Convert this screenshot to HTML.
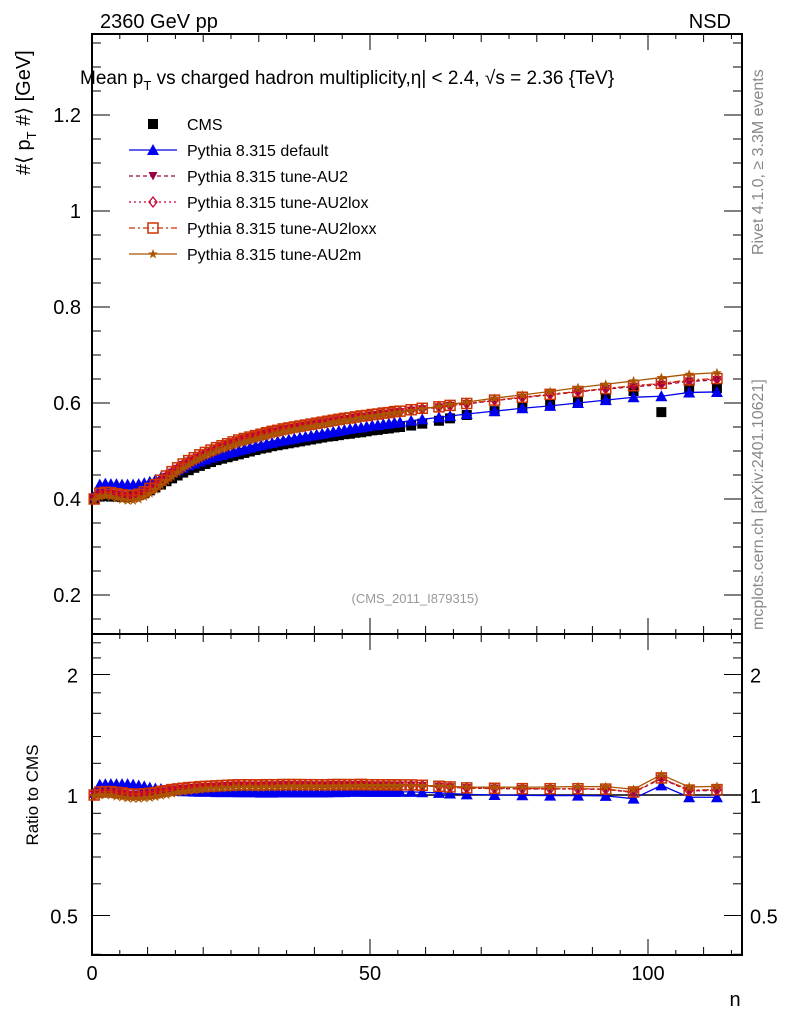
<!DOCTYPE html>
<html><head><meta charset="utf-8"><style>
body{margin:0;background:#fff;}
svg{font-family:"Liberation Sans",sans-serif;}
</style></head><body>
<svg id="chart" width="786" height="1024" xmlns="http://www.w3.org/2000/svg">
<g id="frame"></g>
<g id="marks"></g>
<text x="100" y="28" font-size="20">2360 GeV pp</text>
<text x="731" y="28" font-size="20" text-anchor="end">NSD</text>
<text x="80" y="84" font-size="19">Mean p<tspan font-size="13" dy="6">T</tspan><tspan dy="-6"> vs charged hadron multiplicity,</tspan>η| &lt; 2.4, √s = 2.36 {TeV}</text>
<text transform="translate(30,175) rotate(-90)" font-size="20">#⟨ p<tspan font-size="13" dy="6">T</tspan><tspan dy="-6"> #⟩ [GeV]</tspan></text>
<text transform="translate(38,795) rotate(-90)" font-size="17" text-anchor="middle">Ratio to CMS</text>
<text x="735" y="1006" font-size="20" text-anchor="middle">n</text>
<text transform="translate(763,255) rotate(-90)" font-size="16" fill="#888">Rivet 4.1.0, ≥ 3.3M events</text>
<text transform="translate(763,630) rotate(-90)" font-size="16" fill="#888">mcplots.cern.ch [arXiv:2401.10621]</text>
<text x="415" y="603" font-size="13" fill="#999" text-anchor="middle">(CMS_2011_I879315)</text>
<g id="legend"></g>
</svg>
<script>
const nVals=[1,2,3,4,5,6,7,8,9,10,11,12,13,14,15,16,17,18,19,20,21,22,23,24,25,26,27,28,29,30,31,32,33,34,35,36,37,38,39,40,41,42,43,44,45,46,47,48,49,50,51,52,53,54,55,56,58,60,63,65,68,73,78,83,88,93,98,103,108,113];
const cms=[0.400,0.405,0.406,0.405,0.405,0.404,0.404,0.405,0.408,0.412,0.418,0.424,0.430,0.437,0.443,0.449,0.455,0.460,0.465,0.469,0.473,0.477,0.481,0.484,0.487,0.490,0.493,0.496,0.499,0.502,0.505,0.507,0.510,0.512,0.514,0.516,0.518,0.520,0.522,0.524,0.526,0.528,0.530,0.531,0.533,0.535,0.536,0.538,0.539,0.541,0.543,0.544,0.546,0.547,0.549,0.550,0.553,0.557,0.563,0.568,0.575,0.583,0.590,0.596,0.602,0.609,0.625,0.581,0.630,0.631];
const pDefault=[0.405,0.430,0.432,0.431,0.431,0.430,0.430,0.430,0.431,0.433,0.436,0.440,0.445,0.450,0.455,0.460,0.465,0.470,0.474,0.478,0.482,0.486,0.489,0.492,0.495,0.498,0.501,0.504,0.507,0.510,0.512,0.515,0.517,0.520,0.522,0.524,0.526,0.528,0.530,0.532,0.534,0.536,0.538,0.540,0.542,0.544,0.546,0.548,0.549,0.551,0.553,0.554,0.556,0.557,0.559,0.560,0.563,0.566,0.570,0.573,0.577,0.583,0.589,0.594,0.600,0.606,0.612,0.614,0.622,0.623];
const pAU2=[0.400,0.410,0.412,0.411,0.409,0.407,0.405,0.405,0.408,0.413,0.420,0.428,0.437,0.446,0.455,0.463,0.471,0.478,0.484,0.490,0.495,0.500,0.505,0.509,0.513,0.517,0.521,0.524,0.527,0.530,0.533,0.536,0.539,0.541,0.544,0.546,0.548,0.550,0.552,0.554,0.556,0.558,0.560,0.562,0.564,0.566,0.567,0.569,0.571,0.572,0.574,0.575,0.577,0.578,0.580,0.581,0.584,0.587,0.591,0.594,0.598,0.605,0.611,0.617,0.623,0.629,0.634,0.638,0.645,0.648];
const pAU2lox=[0.400,0.411,0.413,0.412,0.410,0.408,0.406,0.406,0.409,0.414,0.421,0.429,0.438,0.447,0.456,0.464,0.472,0.479,0.485,0.491,0.496,0.501,0.506,0.510,0.514,0.518,0.522,0.525,0.528,0.531,0.534,0.537,0.540,0.542,0.545,0.547,0.549,0.551,0.553,0.555,0.557,0.559,0.561,0.563,0.565,0.567,0.568,0.570,0.572,0.573,0.575,0.576,0.578,0.579,0.581,0.582,0.585,0.588,0.592,0.595,0.599,0.606,0.612,0.618,0.624,0.630,0.636,0.640,0.647,0.650];
const pAU2loxx=[0.400,0.412,0.414,0.413,0.411,0.409,0.407,0.407,0.410,0.415,0.422,0.430,0.439,0.448,0.457,0.465,0.473,0.480,0.486,0.492,0.497,0.502,0.507,0.511,0.515,0.519,0.523,0.526,0.529,0.532,0.535,0.538,0.541,0.543,0.546,0.548,0.550,0.552,0.554,0.556,0.558,0.560,0.562,0.564,0.566,0.568,0.569,0.571,0.573,0.574,0.576,0.577,0.579,0.580,0.582,0.583,0.586,0.589,0.592,0.595,0.599,0.606,0.612,0.618,0.624,0.630,0.636,0.641,0.648,0.651];
const pAU2m=[0.398,0.405,0.407,0.405,0.402,0.399,0.397,0.397,0.400,0.405,0.412,0.420,0.429,0.438,0.447,0.456,0.464,0.471,0.478,0.484,0.490,0.495,0.500,0.504,0.508,0.512,0.516,0.519,0.522,0.525,0.528,0.531,0.534,0.537,0.540,0.542,0.545,0.547,0.549,0.551,0.553,0.555,0.557,0.559,0.561,0.563,0.565,0.567,0.569,0.571,0.573,0.574,0.576,0.578,0.579,0.581,0.584,0.588,0.593,0.597,0.602,0.610,0.617,0.624,0.632,0.639,0.646,0.653,0.660,0.663];
const xTicks=[0,50,100];
const yTicks=[0.2,0.4,0.6,0.8,1,1.2];
const rTicks=[0.5,1,2];

const NS='http://www.w3.org/2000/svg';
const L=92,R=742,T=34,MB=634,RB=955;
const X=v=>L+(v-0.6)*5.56;
const XA=v=>L+v*5.56;
const Y=v=>595-(v-0.2)*480;
const RY=v=>795-Math.log2(v)*120.5;
function mk(tag,attrs,parent){const e=document.createElementNS(NS,tag);for(const k in attrs)e.setAttribute(k,attrs[k]);parent.appendChild(e);return e;}
const F=document.getElementById('frame'),M=document.getElementById('marks'),LG=document.getElementById('legend');

let e;
e=mk('rect',{x:L,y:T,width:R-L,height:MB-T,fill:'none',stroke:'#000','stroke-width':2},F);

e=mk('rect',{x:L,y:MB,width:R-L,height:RB-MB,fill:'none',stroke:'#000','stroke-width':2},F);

for(let v=0;v<=115;v+=5){const big=v%50===0;const len=big?16:(v%10===0?8:5);
 for(const [b,t] of [[MB,T],[RB,MB]]){mk('line',{x1:XA(v),x2:XA(v),y1:b,y2:b-len,stroke:'#000'},F);mk('line',{x1:XA(v),x2:XA(v),y1:t,y2:t+len,stroke:'#000'},F);}}
xTicks.forEach(v=>{e=mk('text',{x:XA(v),y:980,'font-size':20,'text-anchor':'middle'},F);e.textContent=v;
 });
for(let v=0.15;v<=1.36;v+=0.05){const y=Y(v);if(y<T||y>MB)continue;const big=Math.abs(v*5-Math.round(v*5))<1e-6;const len=big?18:9;
 mk('line',{x1:L,x2:L+len,y1:y,y2:y,stroke:'#000'},F);mk('line',{x1:R,x2:R-len,y1:y,y2:y,stroke:'#000'},F);}
yTicks.forEach(v=>{e=mk('text',{x:81,y:Y(v)+7,'font-size':20,'text-anchor':'end'},F);e.textContent=v;
 });
[0.4,0.6,0.7,0.8,0.9,1.2,1.4,1.6,1.8,2.2,2.4].forEach(v=>{const y=RY(v);if(y<MB||y>RB)return;
 mk('line',{x1:L,x2:L+9,y1:y,y2:y,stroke:'#000'},F);mk('line',{x1:R,x2:R-9,y1:y,y2:y,stroke:'#000'},F);});
rTicks.forEach(v=>{const y=RY(v);mk('line',{x1:L,x2:L+18,y1:y,y2:y,stroke:'#000'},F);mk('line',{x1:R,x2:R-18,y1:y,y2:y,stroke:'#000'},F);
 e=mk('text',{x:78,y:y+8,'font-size':20,'text-anchor':'end'},F);e.textContent=v;
 e=mk('text',{x:750,y:y+8,'font-size':20},F);e.textContent=v;});
e=mk('line',{x1:L,x2:R,y1:RY(1),y2:RY(1),stroke:'#000','stroke-width':1.5},F);


function marker(type,x,y,col,g){
 if(type==='sq')return mk('rect',{x:x-5,y:y-5,width:10,height:10,fill:col},g);
 if(type==='tri')return mk('path',{d:`M${x-6},${y+5}L${x+6},${y+5}L${x},${y-6}Z`,fill:col},g);
 if(type==='itri')return mk('path',{d:`M${x-4.5},${y-4}L${x+4.5},${y-4}L${x},${y+4.5}Z`,fill:col},g);
 if(type==='dia')return mk('path',{d:`M${x},${y-5}L${x+4},${y}L${x},${y+5}L${x-4},${y}Z`,fill:'none',stroke:col,'stroke-width':1.3},g);
 if(type==='osq')return mk('rect',{x:x-5,y:y-5,width:10,height:10,fill:'none',stroke:col,'stroke-width':1.5},g);
 if(type==='star')return mk('path',{d:`M${x},${y-5}L${x+1.3},${y-1.5}L${x+4.8},${y-1.5}L${x+2},${y+0.8}L${x+3},${y+4.5}L${x},${y+2.2}L${x-3},${y+4.5}L${x-2},${y+0.8}L${x-4.8},${y-1.5}L${x-1.3},${y-1.5}Z`,fill:col},g);
}
const series=[
 {name:'Pythia 8.315 default',vals:pDefault,col:'#0000ee',mk:'tri',dash:'',key:'default'},
 {name:'Pythia 8.315 tune-AU2',vals:pAU2,col:'#990044',mk:'itri',dash:'4,3',key:'au2'},
 {name:'Pythia 8.315 tune-AU2lox',vals:pAU2lox,col:'#cc0033',mk:'dia',dash:'2,3',key:'au2lox'},
 {name:'Pythia 8.315 tune-AU2loxx',vals:pAU2loxx,col:'#cc3300',mk:'osq',dash:'6,3,2,3',key:'au2loxx'},
 {name:'Pythia 8.315 tune-AU2m',vals:pAU2m,col:'#aa5500',mk:'star',dash:'',key:'au2m'}];
const gc=mk('g',{},M);
nVals.forEach((n,i)=>{const m=marker('sq',X(n),Y(cms[i]),'#000',gc);});
series.forEach(s=>{
 const g=mk('g',{},M);
 const pts=nVals.map((n,i)=>X(n)+','+Y(s.vals[i])).join(' ');
 e=mk('polyline',{points:pts,fill:'none',stroke:s.col,'stroke-width':1.3,'stroke-dasharray':s.dash},g);
 
 nVals.forEach((n,i)=>{const m=marker(s.mk,X(n),Y(s.vals[i]),s.col,g);});
 const gr=mk('g',{},M);
 const rp=nVals.map((n,i)=>X(n)+','+RY(s.vals[i]/cms[i])).join(' ');
 e=mk('polyline',{points:rp,fill:'none',stroke:s.col,'stroke-width':1.3,'stroke-dasharray':s.dash},gr);
 
 nVals.forEach((n,i)=>{const m=marker(s.mk,X(n),RY(s.vals[i]/cms[i]),s.col,gr);});
});
const items=[{name:'CMS',col:'#000',mk:'sq',dash:null,key:'cms'}].concat(series);
items.forEach((s,i)=>{const y=124+i*26;
 const g=mk('g',{},LG);
 if(s.dash!==null)mk('line',{x1:129,x2:177,y1:y,y2:y,stroke:s.col,'stroke-width':1.3,'stroke-dasharray':s.dash},g);
 marker(s.mk,153,y,s.col,g);
 const t=mk('text',{x:187,y:y+6,'font-size':16},g);t.textContent=s.name;});
</script>
</body></html>
